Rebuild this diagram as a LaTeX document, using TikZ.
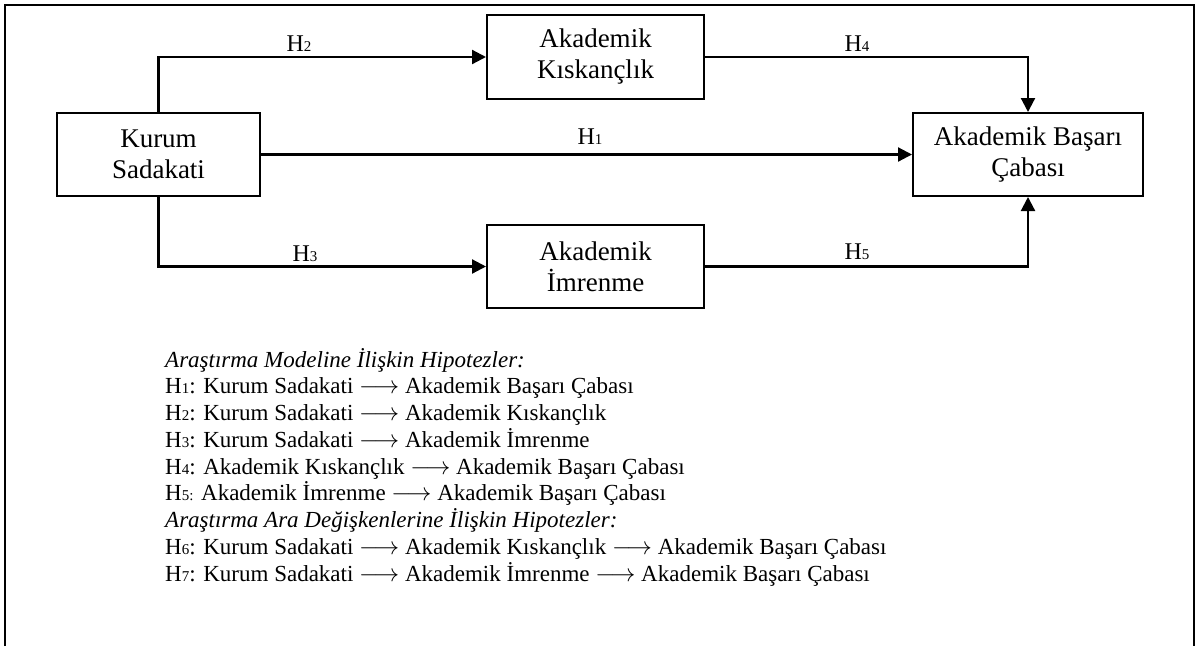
\documentclass[tikz,border=0pt]{standalone}
\usepackage{fontspec}
\setmainfont{Liberation Serif}
\usetikzlibrary{arrows.meta}
\newcommand\hn[2]{H{\fontsize{#2}{#2}\selectfont #1}}
\newcommand\ar{$\longrightarrow$}
\begin{document}
\begin{tikzpicture}[x=1pt,y=-1pt,
  box/.style={draw,line width=2pt,inner sep=0pt,align=center,font=\fontsize{27}{31}\selectfont},
  conn/.style={line width=2.2pt,-{Triangle[length=14pt,width=14pt]}},
  lbl/.style={font=\fontsize{24}{24}\selectfont,inner sep=0pt},
  hyp/.style={anchor=base west,inner sep=0pt,align=left,font=\fontsize{23}{26.75}\selectfont}]
\useasboundingbox (0,0) rectangle (1198,646);
\draw[line width=1.3pt] (5,646) -- (5,5) -- (1194,5) -- (1194,646);

\node[box,minimum width=203pt,minimum height=83pt] (ks) at (158.5,154.5) {Kurum\\Sadakati};
\node[box,minimum width=217pt,minimum height=84pt] (kk) at (595.5,57) {Akademik\\Kıskançlık};
\node[box,minimum width=217pt,minimum height=83pt] (ai) at (595.5,266.5) {Akademik\\İmrenme};
\node[box,minimum width=230pt,minimum height=83pt] (ab) at (1028,154.5) {Akademik Başarı\\Çabası};

\draw[conn] (ks.north) |- (kk.west);
\draw[conn] (ks.south) |- (ai.west);
\draw[conn] (ks.east) -- (ab.west);
\draw[conn] (kk.east) -| (ab.north);
\draw[conn] (ai.east) -| (ab.south);

\node[lbl] (l2) at (299,44) {\hn{2}{15}};
\node[lbl] (l1) at (590,137) {\hn{1}{15}};
\node[lbl] (l4) at (857,44) {\hn{4}{15}};
\node[lbl] (l3) at (305,254) {\hn{3}{15}};
\node[lbl] (l5) at (857,252) {\hn{5}{15}};

\node[hyp] (hyps) at (165,581) {\itshape Araştırma Modeline İlişkin Hipotezler:\\
\hn{1}{15}: Kurum Sadakati \ar{} Akademik Başarı Çabası\\
\hn{2}{15}: Kurum Sadakati \ar{} Akademik Kıskançlık\\
\hn{3}{15}: Kurum Sadakati \ar{} Akademik İmrenme\\
\hn{4}{15}: Akademik Kıskançlık \ar{} Akademik Başarı Çabası\\
\hn{5:}{15} Akademik İmrenme \ar{} Akademik Başarı Çabası\\
\itshape Araştırma Ara Değişkenlerine İlişkin Hipotezler:\\
\hn{6}{15}: Kurum Sadakati \ar{} Akademik Kıskançlık \ar{} Akademik Başarı Çabası\\
\hn{7}{15}: Kurum Sadakati \ar{} Akademik İmrenme \ar{} Akademik Başarı Çabası};
\end{tikzpicture}
\end{document}
